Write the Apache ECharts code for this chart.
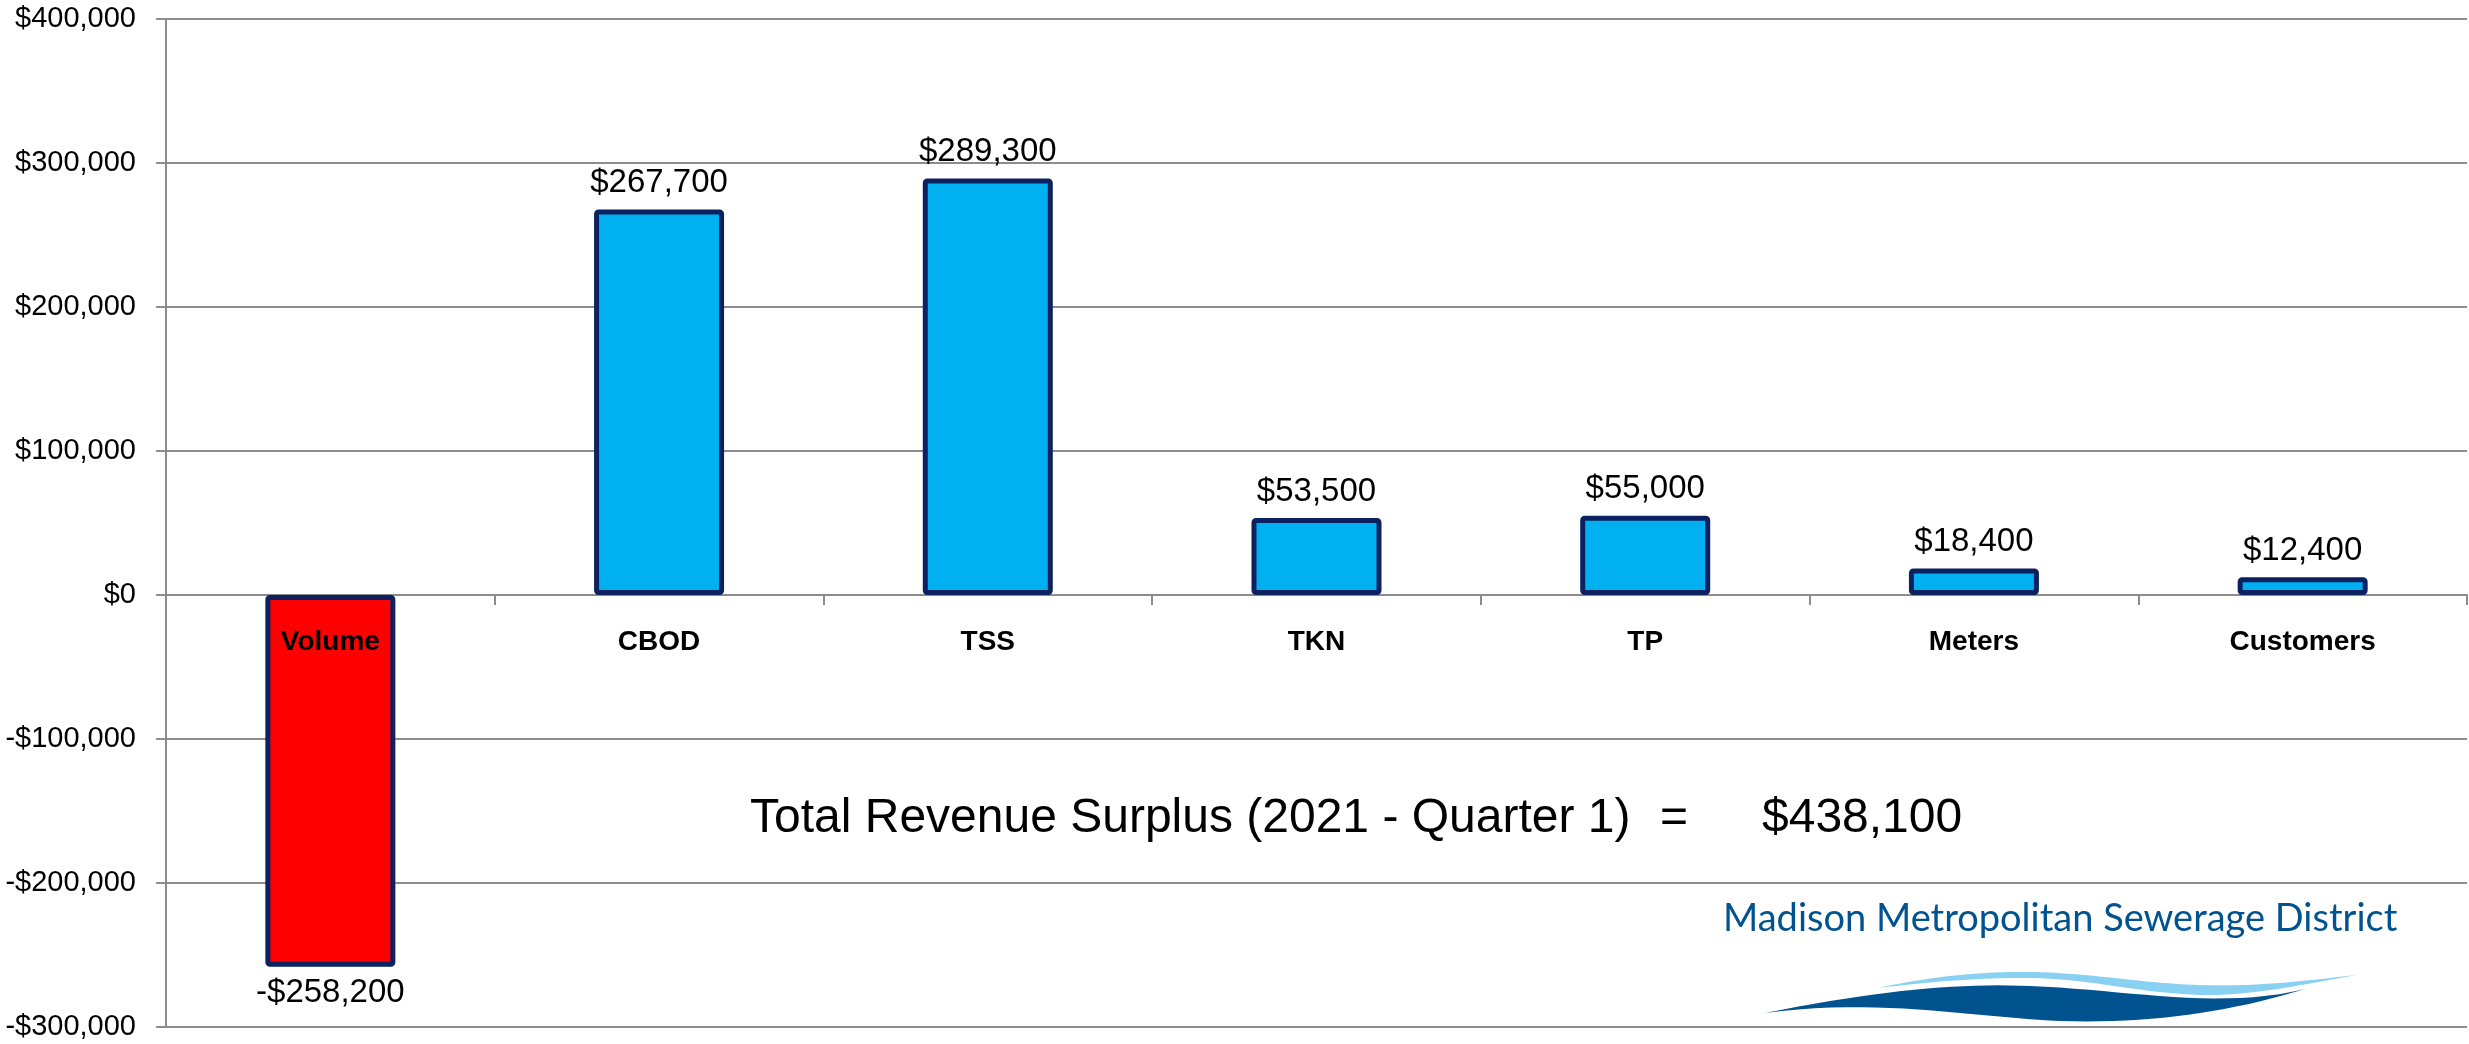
<!DOCTYPE html>
<html>
<head>
<meta charset="utf-8">
<script src="https://cdn.jsdelivr.net/npm/echarts@6/dist/echarts.min.js"></script>
<style>
  html, body { margin: 0; padding: 0; background: #fff; }
  #chart { width: 2469px; height: 1044px; }
</style>
</head>
<body>
<div id="chart"></div>
<script>
// categories and values
var categories = ["Volume", "CBOD", "TSS", "TKN", "TP", "Meters", "Customers"];
var surplus = [-258200, 267700, 289300, 53500, 55000, 18400, 12400];
var yTicks = [-300000, -200000, -100000, 0, 100000, 200000, 300000, 400000];
var totalTitle = "Total Revenue Surplus (2021 - Quarter 1)";
var logoText = "Madison Metropolitan Sewerage District";

function money(v) {
  return (v < 0 ? "-" : "") + "$" + Math.abs(v).toLocaleString("en-US");
}

var total = 0;
surplus.forEach(function (v) { total += v; });

var barData = surplus.map(function (v) {
  return {
    value: v,
    itemStyle: { color: v < 0 ? "#FF0000" : "#00B0F0" },
    label: { position: v < 0 ? "bottom" : "top" }
  };
});

// sample cubic bezier segments into polygon points (logo swooshes)
function swoosh(start, segs) {
  var pts = [start];
  var p0 = start;
  segs.forEach(function (s) {
    for (var i = 1; i <= 20; i++) {
      var t = i / 20, u = 1 - t;
      pts.push([
        u*u*u*p0[0] + 3*u*u*t*s[0][0] + 3*u*t*t*s[1][0] + t*t*t*s[2][0],
        u*u*u*p0[1] + 3*u*u*t*s[0][1] + 3*u*t*t*s[1][1] + t*t*t*s[2][1]
      ]);
    }
    p0 = s[2];
  });
  return pts;
}

var darkWave = swoosh([1765, 1013], [
  [[1880, 990], [1960, 983], [2030, 986]],
  [[2130, 990], [2220, 1010], [2305, 989]],
  [[2230, 1012], [2150, 1024], [2060, 1021]],
  [[1960, 1016], [1880, 998], [1765, 1013]]
]);
var lightWave = swoosh([1877, 988], [
  [[1930, 977], [1980, 971], [2033, 972]],
  [[2090, 973], [2150, 984], [2200, 985]],
  [[2260, 987], [2310, 980], [2357, 975]],
  [[2300, 985], [2250, 996], [2200, 995]],
  [[2140, 993], [2090, 979], [2033, 978]],
  [[1980, 977], [1920, 983], [1877, 988]]
]);

var myChart = echarts.init(document.getElementById("chart"));
var font = "'Liberation Sans', Arial, sans-serif";
var gray = "#8c8c8c";
var option = {
  animation: false,
  backgroundColor: "#fff",
  grid: {
    left: 166, right: 2, top: 19, bottom: 17,
    containLabel: false,
    outerBoundsMode: "none"
  },
  xAxis: [
    {
      // axis line and ticks sitting on the zero line
      type: "category",
      data: categories,
      axisLine: { onZero: true, lineStyle: { color: gray, width: 2 } },
      axisTick: { show: true, interval: 0, length: 10, lineStyle: { color: gray, width: 2 } },
      axisLabel: { show: false },
      splitLine: { show: false }
    },
    {
      // category names, shifted up to the zero line
      type: "category",
      data: categories,
      position: "bottom",
      offset: -432,
      z: 10,
      axisLine: { show: false },
      axisTick: { show: false },
      axisLabel: {
        show: true,
        interval: 0,
        margin: 33,
        color: "#000",
        fontFamily: font,
        fontSize: 28,
        fontWeight: "bold"
      },
      splitLine: { show: false }
    }
  ],
  yAxis: {
    type: "value",
    min: yTicks[0],
    max: yTicks[yTicks.length - 1],
    interval: yTicks[1] - yTicks[0],
    axisLine: { show: true, lineStyle: { color: gray, width: 2 } },
    axisTick: { show: true, length: 10, lineStyle: { color: gray, width: 2 } },
    axisLabel: {
      margin: 30,
      color: "#000",
      fontFamily: font,
      fontSize: 29,
      formatter: money
    },
    splitLine: { lineStyle: { color: gray, width: 2 } }
  },
  series: [
    {
      type: "bar",
      xAxisIndex: 0,
      data: barData,
      barWidth: 130,
      itemStyle: { borderColor: "#0B2160", borderWidth: 5, borderRadius: 2 },
      label: {
        show: true,
        distance: 10,
        color: "#000",
        fontFamily: font,
        fontSize: 33,
        formatter: function (p) { return money(p.value); }
      }
    }
  ],
  graphic: [
    {
      type: "text", left: 750, top: 795, z: 10,
      style: { text: totalTitle, fill: "#000", font: "48px " + font }
    },
    {
      type: "text", left: 1660, top: 795, z: 10,
      style: { text: "=", fill: "#000", font: "48px " + font }
    },
    {
      type: "text", left: 1762, top: 795, z: 10,
      style: { text: money(total), fill: "#000", font: "48px " + font }
    },
    {
      type: "text", left: 1723, top: 900, z: 10,
      style: { text: logoText, fill: "#00538F", font: "38px Lato, 'Open Sans', sans-serif" }
    },
    {
      type: "polygon", z: 10,
      shape: { points: lightWave },
      style: { fill: "#89D1F3" }
    },
    {
      type: "polygon", z: 10,
      shape: { points: darkWave },
      style: { fill: "#00538F" }
    }
  ]
};
myChart.setOption(option);
window.addEventListener("resize", function () {
  myChart.resize();
});
</script>
</body>
</html>
